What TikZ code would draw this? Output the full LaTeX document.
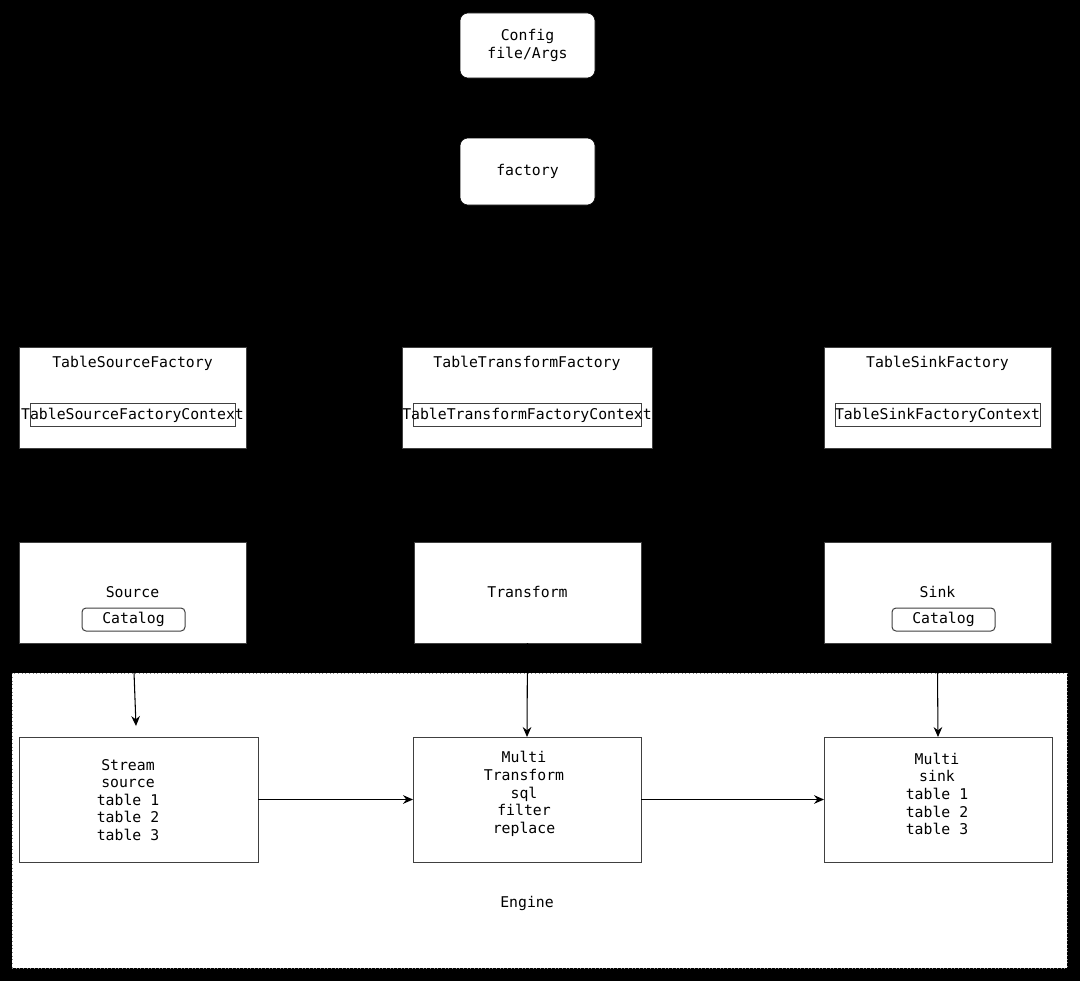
\documentclass[tikz,border=0pt]{standalone}
\usepackage{fontspec}
\setmonofont{DejaVu Sans Mono}
\usetikzlibrary{arrows.meta}
\begin{document}
\begin{tikzpicture}[x=0.75pt,y=-0.75pt,
  every node/.style={font=\ttfamily\fontsize{11.1}{13.2}\selectfont, text=black, inner sep=0pt, outer sep=0pt},
  topbox/.style={fill=white, draw=black, rounded corners=6pt, minimum width=135*0.75pt, align=center},
  whitebox/.style={fill=white, draw=black!75, line width=0.75pt},
  innerbox/.style={draw=black!75, line width=0.75pt, minimum height=23*0.75pt},
  catbox/.style={draw=black!75, line width=0.75pt, rounded corners=3pt, minimum width=103*0.75pt, minimum height=23*0.75pt},
  txt/.style={align=center},
  conn/.style={draw=black, line width=0.8pt, -{Stealth[length=7.5pt,width=6.5pt,inset=2.5pt]}}
]
\fill[black] (0,0) rectangle (1080,981);
\useasboundingbox (0,0) rectangle (1080,981);

% top
\node[topbox, minimum height=65*0.75pt] (cfg) at (527.5,45.5) {Config\\file/Args};
\node[topbox, minimum height=67*0.75pt] (fac) at (527.5,171.5) {factory};

% factories
\node[whitebox, minimum width=227*0.75pt, minimum height=101*0.75pt] (tsf) at (132.5,397.5) {};
\node[txt] (tsft) at (132.5,363) {TableSourceFactory};
\node[innerbox, minimum width=205*0.75pt] (tsfc) at (132.5,414.5) {};
\node[txt] (tsfct) at (132.5,415) {TableSourceFactoryContext};

\node[whitebox, minimum width=250*0.75pt, minimum height=101*0.75pt] (ttf) at (527,397.5) {};
\node[txt] (ttft) at (527,363) {TableTransformFactory};
\node[innerbox, minimum width=228*0.75pt] (ttfc) at (527,414.5) {};
\node[txt] (ttfct) at (527,415) {TableTransformFactoryContext};

\node[whitebox, minimum width=227*0.75pt, minimum height=101*0.75pt] (tkf) at (937.5,397.5) {};
\node[txt] (tkft) at (937.5,363) {TableSinkFactory};
\node[innerbox, minimum width=205*0.75pt] (tkfc) at (937.5,414.5) {};
\node[txt] (tkfct) at (937.5,415) {TableSinkFactoryContext};

% plugins
\node[whitebox, minimum width=227*0.75pt, minimum height=101*0.75pt] (src) at (132.5,592.5) {};
\node[txt] (srct) at (132.5,592) {Source};
\node[catbox] (srccat) at (133.5,619.5) {Catalog};

\node[whitebox, minimum width=227*0.75pt, minimum height=101*0.75pt] (trn) at (527.5,592.5) {};
\node[txt] (trnt) at (527.5,592) {Transform};

\node[whitebox, minimum width=227*0.75pt, minimum height=101*0.75pt] (snk) at (937.5,592.5) {};
\node[txt] (snkt) at (937.5,592) {Sink};
\node[catbox] (snkcat) at (943.5,619.5) {Catalog};

% engine
\node[fill=white, draw=black!45, dotted, line width=0.75pt, minimum width=1055*0.75pt, minimum height=295*0.75pt] (eng) at (539.5,820.5) {};
\node[txt] (engt) at (527,903) {Engine};

\node[whitebox, minimum width=239*0.75pt, minimum height=125*0.75pt] (ss) at (138.5,799.5) {};
\node[txt] (sst) at (128,800) {Stream\\source\\table 1\\table 2\\table 3};

\node[whitebox, minimum width=228*0.75pt, minimum height=125*0.75pt] (mt) at (527,799.5) {};
\node[txt] (mtt) at (524,794) {Multi\\Transform\\sql\\filter\\replace};

\node[whitebox, minimum width=228*0.75pt, minimum height=125*0.75pt] (ms) at (938,799.5) {};
\node[txt] (mst) at (937,794) {Multi\\sink\\table 1\\table 2\\table 3};

% connectors
\coordinate (s1) at (134,672);
\coordinate (s2) at (136,726);
\coordinate (k1) at (937.5,672);
\draw[conn] (s1) -- (s2);
\draw[conn] (trn.south) -- (mt.north);
\draw[conn] (k1) -- (ms.north);
\draw[conn] (ss.east) -- (mt.west);
\draw[conn] (mt.east) -- (ms.west);
\end{tikzpicture}
\end{document}
